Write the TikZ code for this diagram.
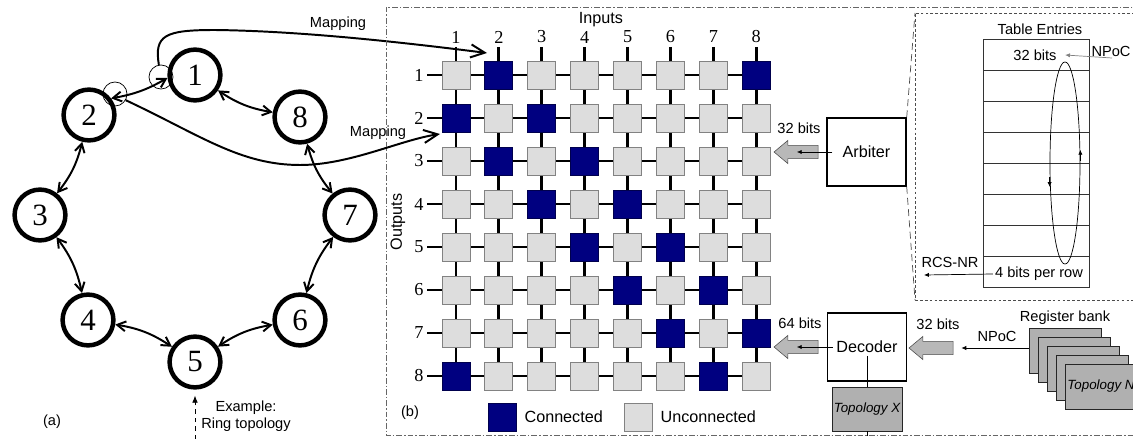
\documentclass[tikz,border=0pt]{standalone}
\usepackage{fontspec}
\setmainfont{Liberation Serif}
\setsansfont{Liberation Sans}
\usetikzlibrary{arrows.meta,shapes.arrows,shapes.geometric,backgrounds}
\definecolor{navycell}{RGB}{0,0,128}
\definecolor{lightcell}{RGB}{221,221,221}
\definecolor{cellborder}{RGB}{130,130,130}
\definecolor{arrowgray}{RGB}{184,184,184}
\definecolor{cardgray}{RGB}{176,176,176}
\tikzset{
  ringnode/.style={circle,draw,line width=3.2pt,minimum size=1.27cm,inner sep=0pt,font=\fontsize{22}{22}\selectfont},
  ringlink/.style={{Straight Barb[angle=60:7pt]}-{Straight Barb[angle=60:7pt]},line width=1.4pt},
  maplink/.style={-{Straight Barb[angle=50:11pt]},line width=1.4pt},
  mapring/.style={circle,draw,line width=0.5pt,minimum size=0.6cm,inner sep=0pt},
  labeltext/.style={font=\sffamily\fontsize{10.4}{12}\selectfont},
  bigtext/.style={font=\sffamily\fontsize{11.5}{13}\selectfont},
  gridnum/.style={font=\fontsize{13}{13}\selectfont,inner sep=1pt},
  gridline/.style={line width=2pt},
  offcell/.style={rectangle,draw=cellborder,fill=lightcell,line width=0.6pt,minimum size=0.7cm,inner sep=0pt},
  oncell/.style={offcell,fill=navycell,draw=navycell!60!black},
  unitbox/.style={draw,line width=1pt,minimum width=1.975cm,minimum height=1.7cm,font=\sffamily\fontsize{11.5}{13}\selectfont},
  grayarrow/.style={single arrow,shape border rotate=180,draw=gray!60!black,fill=arrowgray,minimum height=1.1cm,inner sep=4.5pt,single arrow head extend=3.5pt,single arrow tip angle=80},
  thinarrow/.style={-{Latex[length=3.5pt,width=3pt]},line width=0.5pt},
  tablerow/.style={draw=black!80,line width=0.5pt,minimum width=2.65cm,minimum height=0.7775cm,inner sep=0pt},
  card/.style={draw=black!85,fill=cardgray,line width=0.6pt,minimum width=1.8cm,minimum height=1.125cm,inner sep=0pt,font=\sffamily\itshape\fontsize{9.5}{11}\selectfont},
  zoomdash/.style={dash pattern=on 5pt off 3pt,line width=0.5pt,draw=black!70},
  finedash/.style={dash pattern=on 2pt off 1.5pt,line width=0.5pt,draw=black!70},
  bframe/.style={dash pattern=on 4pt off 1.5pt on 1pt off 1.5pt,line width=0.5pt,draw=black!60}
}
\begin{document}
\begin{tikzpicture}[x=0.025cm,y=-0.025cm]
        \useasboundingbox (0,0) rectangle (1133,439);
        \clip (0,0) rectangle (1133,439);
        \begin{scope}[on background layer]
          \fill[white] (0,0) rectangle (1133,439);
        \end{scope}

        \node[ringnode] (n1) at (195,75) {1};
        \node[ringnode] (n2) at (89,115) {2};
        \node[ringnode] (n3) at (40,215) {3};
        \node[ringnode] (n4) at (88,320) {4};
        \node[ringnode] (n5) at (195,362) {5};
        \node[ringnode] (n6) at (300,320) {6};
        \node[ringnode] (n7) at (350,215) {7};
        \node[ringnode] (n8) at (300,117) {8};

        \path[ringlink]
        (n1) edge[bend right=12] (n8)
        (n8) edge[bend right=12] (n7)
        (n7) edge[bend right=12] (n6)
        (n6) edge[bend right=12] (n5)
        (n5) edge[bend right=12] (n4)
        (n4) edge[bend right=12] (n3)
        (n3) edge[bend right=12] (n2)
        (n2.37) edge[bend right=10] (n1.186)
        ;

        \node[mapring] (mapa) at (161,77) {};
        \node[mapring] (mapb) at (115,94) {};
        \coordinate (mapa-end) at (487,53);
        \coordinate (mapb-end) at (440,134);
        \draw[maplink] (mapa.100) .. controls (154,35) and (165,30) .. (215,30) .. controls (300,31) and (400,42) .. (mapa-end);
        \draw[maplink] (mapb.-30) .. controls (200,135) and (240,165) .. (300,165) .. controls (350,165) and (400,140) .. (mapb-end);
        \node[labeltext] (mapa-lab) at (338,24) {Mapping};
        \node[labeltext] (mapb-lab) at (378,133) {Mapping};

        \coordinate (ex-start) at (195,439);
        \draw[dashed,-{Latex[length=5pt,width=4pt]},line width=0.5pt] (ex-start) -- ([yshift=-0.15cm]n5.south);
        \node[labeltext,align=center] (ex-lab) at (246,416) {Example:\\Ring topology};
        \node[labeltext] (a-lab) at (52,422) {(a)};

        \draw[bframe] (1140,7) -- (386,7) -- (386,435) -- (1140,435);

        \node[bigtext] (inputs) at (601,20) {Inputs};
        \node[bigtext,rotate=90] (outputs) at (398,222) {Outputs};
        \foreach \c in {1,...,8} {
          \node[gridnum] (in-\c) at ({456+42.9*(\c-1)},37) {\c};
          \coordinate (colin-\c) at ({456+42.9*(\c-1)},47);
        }
        \foreach \r in {1,...,8} {
          \node[gridnum] (out-\r) at (419,{75+43*(\r-1)}) {\r};
          \coordinate (rowin-\r) at (427,{75+43*(\r-1)});
        }
        \foreach \r in {1,...,8}
          \foreach \c in {1,...,8} {
            \pgfmathtruncatemacro{\d}{abs(\r-\c)}
            \ifnum\d=1 \def\kind{oncell}\else\ifnum\d=7 \def\kind{oncell}\else\def\kind{offcell}\fi\fi
            \node[\kind] (cell-\r-\c) at ({456+42.9*(\c-1)},{75+43*(\r-1)}) {};
          }
        \begin{scope}[on background layer]
          \foreach \r in {1,...,8} \draw[gridline] (rowin-\r) -- (cell-\r-8.center);
          \foreach \c in {1,...,8} \draw[gridline] (colin-\c) -- (cell-8-\c.center);
        \end{scope}

        \node[oncell] (leg-on) at (502,417) {};
        \node[bigtext,anchor=west] (leg-on-lab) at ([xshift=0.08cm]leg-on.east) {Connected};
        \node[offcell] (leg-off) at (638,417) {};
        \node[bigtext,anchor=west] (leg-off-lab) at ([xshift=0.08cm]leg-off.east) {Unconnected};
        \node[labeltext] (b-lab) at (410,413) {(b)};

        \node[unitbox] (arbiter) at (866.5,152) {Arbiter};
        \node[grayarrow] (arbout) at (800,152) {};
        \draw[thinarrow] ([xshift=0.15cm]arbiter.west) -- ([xshift=-0.08cm]arbout.center);
        \node[labeltext] (arb-bits) at (799,128) {32 bits};

        \node[unitbox] (decoder) at (867,347) {Decoder};
        \node[grayarrow] (decout) at (800,347) {};
        \draw[thinarrow] ([xshift=0.15cm]decoder.west) -- ([xshift=-0.08cm]decout.center);
        \node[labeltext] (dec-bits) at (800,323) {64 bits};
        \node[card,minimum width=1.75cm,minimum height=1.1cm] (topox) at (867,409) {Topology X};
        \coordinate (topox-end) at (867,439);
        \draw[line width=0.5pt] ([yshift=-0.22cm]decoder.center) -- (topox.north);
        \draw[dashed,line width=0.5pt] (topox.south) -- (topox-end);

        \coordinate (zoom-tl) at (915,13);
        \coordinate (zoom-bl) at (915,300);
        \draw[finedash] (1140,13) -- (zoom-tl) -- (zoom-bl) -- (1140,300);
        \draw[zoomdash] (arbiter.north east) -- (zoom-tl);
        \draw[zoomdash] (arbiter.south east) -- (zoom-bl);

        \node[labeltext] (tab-title) at (1040,29) {Table Entries};
        \foreach \k in {1,...,8}
          \node[tablerow] (entry-\k) at (1036,{39+31.1*(\k-0.5)}) {};
        \node[labeltext] (entry-top) at (1035,55) {32 bits};
        \node[labeltext] (entry-bottom) at (1039,274) {4 bits per row};
        \node[draw,ellipse,line width=0.5pt,minimum width=0.75cm,minimum height=5.05cm,inner sep=0pt] (scan) at (1065,163) {};
        \draw[thinarrow] ([yshift=-0.35cm]scan.west) -- ([yshift=-0.6cm]scan.west);
        \draw[thinarrow] ([yshift=0.05cm]scan.east) -- ([yshift=0.33cm]scan.east);
        \coordinate (npoc-in) at (1112,58);
        \node[labeltext] (npoc-lab) at (1111,51) {NPoC};
        \draw[thinarrow,draw=gray] (npoc-in) -- ([xshift=0.09cm]entry-top.east);
        \coordinate (rcs-out) at (924,275);
        \node[labeltext] (rcs-lab) at (950,262) {RCS-NR};
        \draw[thinarrow] ([xshift=0.07cm]entry-bottom.west) -- (rcs-out);

        \node[labeltext] (bank-lab) at (1065,318) {Register bank};
        \foreach \i in {0,...,3}
          \node[card] (card-\i) at ({1065+9*\i},{350.5+9*\i}) {};
        \node[card] (card-4) at (1101,386.5) {Topology N};
        \node[grayarrow] (bankin) at (935,348) {};
        \node[labeltext] (bank-bits) at (938,324) {32 bits};
        \node[labeltext] (npoc2-lab) at (997,336) {NPoC};
        \draw[thinarrow] (card-0.west |- bankin.center) -- ([xshift=0.2cm]bankin.tail);
\end{tikzpicture}
\end{document}
